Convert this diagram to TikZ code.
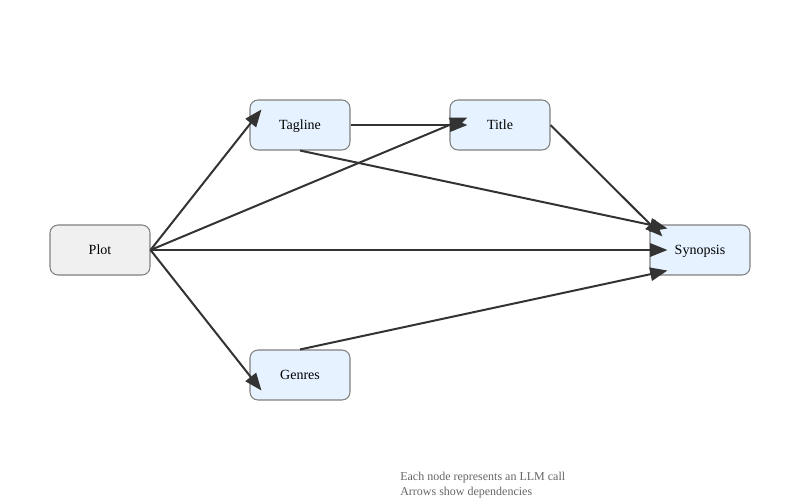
\documentclass[tikz,border=0pt]{standalone}
\usepackage{fontspec}
\setmainfont{Liberation Serif}
\usetikzlibrary{arrows.meta,calc}
\definecolor{edgec}{HTML}{333333}
\definecolor{borderc}{HTML}{808080}
\definecolor{plotfill}{HTML}{F0F0F0}
\definecolor{llmfill}{HTML}{E6F2FF}
\definecolor{capc}{HTML}{666666}
\begin{document}
\begin{tikzpicture}[x=0.75pt,y=-0.75pt,
  box/.style={draw=borderc,line width=0.8pt,rounded corners=6pt,minimum width=75pt,minimum height=37.5pt,inner sep=0pt,font=\rmfamily\fontsize{10.5}{12}\selectfont,text=black,text height=1.6ex,text depth=0.2ex},
  plotbox/.style={box,fill=plotfill},
  llmbox/.style={box,fill=llmfill},
  dep/.style={draw=edgec,line width=1.5pt,-{Triangle[length=13pt,width=10pt]}},
  capt/.style={font=\rmfamily\fontsize{9}{11.25}\selectfont,text=capc,align=left,inner sep=0pt}]
\useasboundingbox (0,0) rectangle (800,500);
\node[plotbox] (plot) at (100,250) {Plot};
\node[llmbox] (tag) at (300,125) {Tagline};
\node[llmbox] (title) at (500,125) {Title};
\node[llmbox] (syn) at (700,250) {Synopsis};
\node[llmbox] (gen) at (300,375) {Genres};
\draw[dep] (plot.east) -- ($(tag.north west)+(12,10)$);
\draw[dep] (plot.east) -- ($(title.north west)+(18,18)$);
\draw[dep] (plot.east) -- ($(syn.west)+(18,0)$);
\draw[dep] (plot.east) -- ($(gen.south west)+(12,-10)$);
\draw[dep] (tag.east) -- ($(title.west)+(18,0)$);
\draw[dep] (tag.south) -- ($(syn.north west)+(18,4)$);
\draw[dep] (title.east) -- ($(syn.north west)+(13,12)$);
\draw[dep] (gen.north) -- ($(syn.south west)+(18,-5)$);
\node[capt,anchor=west] (cap) at (400,485.5) {Each node represents an LLM call\\Arrows show dependencies};
\end{tikzpicture}
\end{document}
